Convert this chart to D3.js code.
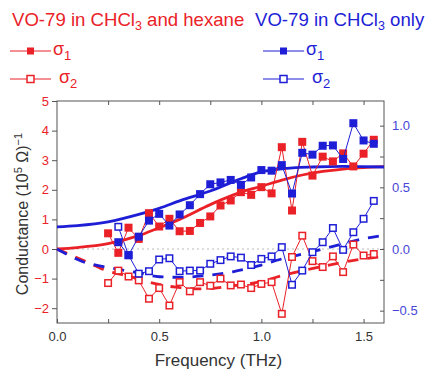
<!DOCTYPE html>
<html>
<head>
<meta charset="utf-8">
<script src="https://cdnjs.cloudflare.com/ajax/libs/d3/7.8.5/d3.min.js"></script>
<style>
  body { margin: 0; background: #fff; }
  svg { font-family: "Liberation Sans", Arial, sans-serif; }
</style>
</head>
<body>
<div id="chart"></div>
<script>
// data
const redFreq = [0.25,0.30,0.35,0.40,0.45,0.50,0.55,0.60,0.65,0.70,0.75,0.80,0.85,0.90,0.95,1.00,1.05,1.10,1.15,1.20,1.25,1.30,1.35,1.40,1.45,1.50,1.55];
const redSigma1 = [0.53,-0.13,0.72,0.34,1.21,0.76,1.02,0.60,0.61,0.88,1.10,1.47,1.64,1.92,1.83,2.09,1.88,3.44,1.30,3.62,2.48,3.12,2.96,3.23,2.79,3.22,3.69];
const redSigma2 = [-1.15,-0.73,-0.93,-1.06,-1.68,-1.32,-1.91,-1.12,-1.43,-1.12,-1.24,-1.00,-1.23,-1.20,-1.32,-1.18,-1.12,-2.19,-0.27,0.45,-0.41,-0.61,-0.25,-0.78,0.15,-0.22,-0.17];

const blueFreq = [0.30,0.35,0.40,0.45,0.50,0.55,0.60,0.65,0.70,0.75,0.80,0.85,0.90,0.95,1.00,1.05,1.10,1.15,1.20,1.25,1.30,1.35,1.40,1.45,1.50,1.55];
const blueSigma1 = [0.055,-0.05,0.10,0.23,0.285,0.19,0.28,0.355,0.445,0.525,0.54,0.56,0.52,0.58,0.64,0.635,0.68,0.45,0.78,0.765,0.837,0.84,0.73,1.02,0.88,0.853];
const blueSigma2 = [0.18,-0.05,-0.20,-0.18,-0.085,-0.075,-0.18,-0.175,-0.175,-0.12,-0.09,-0.06,-0.07,-0.13,-0.08,-0.06,0.015,-0.29,-0.175,-0.026,0.055,0.17,-0.007,0.136,0.245,0.39];

// fit curves
const redFit1Freq = [0,0.1,0.25,0.4,0.5,0.6,0.75,0.8,0.9,1.0,1.1,1.2,1.3,1.4,1.5,1.6];
const redFit1 = [0,0.05,0.18,0.45,0.72,1.0,1.5,1.65,1.92,2.12,2.33,2.5,2.62,2.7,2.75,2.78];
const blueFit1Freq = [0,0.1,0.25,0.4,0.5,0.6,0.75,0.9,1.0,1.1,1.25,1.4,1.6];
const blueFit1 = [0.18,0.19,0.22,0.28,0.33,0.39,0.47,0.57,0.625,0.65,0.665,0.67,0.665];
const redFit2Freq = [0,0.15,0.25,0.36,0.45,0.58,0.72,0.85,1.0,1.1,1.19,1.32,1.43,1.6];
const redFit2 = [0,-0.45,-0.75,-0.93,-1.12,-1.29,-1.35,-1.25,-1.1,-0.9,-0.75,-0.56,-0.41,-0.25];
const blueFit2Freq = [0,0.13,0.25,0.39,0.5,0.62,0.73,0.86,1.0,1.09,1.24,1.36,1.5,1.6];
const blueFit2 = [0,-0.105,-0.15,-0.19,-0.225,-0.23,-0.215,-0.185,-0.13,-0.085,-0.026,0.025,0.083,0.11];

const leftTicks = [-2,-1,0,1,2,3,4,5];
const rightTicks = [-0.5,0.0,0.5,1.0];
const xTicks = [0,0.5,1.0,1.5];

const width = 437, height = 371;
const L = 57, R = 384, T = 101, B = 323;
const RED = "#ea2228", BLUE = "#1e1ed6";

const svg = d3.select("#chart").append("svg")
  .attr("width", width).attr("height", height);

const x = d3.scaleLinear().domain([0, 1.6]).range([L, R]);
const yL = d3.scaleLinear().domain([-2.5, 5]).range([B, T]);
const yR = d3.scaleLinear().domain([-0.6, 1.2]).range([B, T]);

// zero reference line
svg.append("line")
  .attr("x1", L).attr("x2", R).attr("y1", yL(0)).attr("y2", yL(0))
  .attr("stroke", "#bbb").attr("stroke-dasharray", "2,3");

// axes
const axisColor = "#555";
function styleAxis(g, labelColor) {
  g.select(".domain").remove();
  g.selectAll(".tick line").attr("stroke", axisColor);
  g.selectAll(".tick text").attr("fill", labelColor).style("font-size", "13px");
}
svg.append("g").attr("transform", `translate(${L},0)`)
  .call(d3.axisLeft(yL).tickValues(leftTicks).tickFormat(d3.format("d")).tickSize(5).tickPadding(3))
  .call(g => styleAxis(g, RED));
svg.append("g").attr("transform", `translate(${R},0)`)
  .call(d3.axisRight(yR).tickValues([-0.5,-0.25,0,0.25,0.5,0.75,1.0]).tickSize(-4).tickPadding(8)
    .tickFormat(d => rightTicks.includes(d) ? d3.format(".1f")(d) : ""))
  .call(g => styleAxis(g, "#4646d8"));
svg.append("g").attr("transform", `translate(0,${B})`)
  .call(d3.axisBottom(x).tickValues([0,0.25,0.5,0.75,1.0,1.25,1.5]).tickSize(-4).tickPadding(9)
    .tickFormat(d => xTicks.includes(d) ? d3.format(".1f")(d) : ""))
  .call(g => styleAxis(g, "#333"));
svg.append("g").attr("transform", `translate(0,${T})`)
  .call(d3.axisTop(x).tickValues([0.25,0.5,0.75,1.0,1.25,1.5]).tickSize(-4).tickFormat(""))
  .call(g => styleAxis(g, "#333"));

svg.append("rect")
  .attr("x", L).attr("y", T).attr("width", R - L).attr("height", B - T)
  .attr("fill", "none").attr("stroke", axisColor).attr("stroke-width", 1);

// fits
function fitLine(freqs, vals, scale, color, dashed) {
  const line = d3.line().x(d => x(d[0])).y(d => scale(d[1])).curve(d3.curveMonotoneX);
  svg.append("path")
    .datum(freqs.map((f, i) => [f, vals[i]]))
    .attr("d", line)
    .attr("fill", "none")
    .attr("stroke", color)
    .attr("stroke-width", 2.8)
    .attr("stroke-dasharray", dashed ? "11,9" : null);
}
fitLine(redFit1Freq, redFit1, yL, RED, false);
fitLine(redFit2Freq, redFit2, yL, RED, true);
fitLine(blueFit1Freq, blueFit1, yR, BLUE, false);
fitLine(blueFit2Freq, blueFit2, yR, BLUE, true);

// data series
function series(freqs, vals, scale, color, filled) {
  const pts = freqs.map((f, i) => [f, vals[i]]);
  svg.append("path")
    .datum(pts)
    .attr("d", d3.line().x(d => x(d[0])).y(d => scale(d[1])))
    .attr("fill", "none").attr("stroke", color).attr("stroke-width", 1);
  const s = 8;
  svg.append("g").selectAll("rect").data(pts).join("rect")
    .attr("x", d => x(d[0]) - s / 2 + (filled ? 0 : 0.75))
    .attr("y", d => scale(d[1]) - s / 2 + (filled ? 0 : 0.75))
    .attr("width", filled ? s : s - 1.5)
    .attr("height", filled ? s : s - 1.5)
    .attr("fill", filled ? color : "#fff")
    .attr("stroke", filled ? "none" : color)
    .attr("stroke-width", 1.5);
}
series(redFreq, redSigma2, yL, RED, false);
series(blueFreq, blueSigma2, yR, BLUE, false);
series(redFreq, redSigma1, yL, RED, true);
series(blueFreq, blueSigma1, yR, BLUE, true);

// axis titles
svg.append("text")
  .attr("x", (L + R) / 2 - 2).attr("y", 366)
  .attr("text-anchor", "middle").attr("fill", "#333")
  .style("font-size", "17px")
  .text("Frequency (THz)");

const yt = svg.append("text")
  .attr("transform", `translate(28,${(T + B) / 2 + 2}) rotate(-90)`)
  .attr("text-anchor", "middle").attr("fill", "#333")
  .style("font-size", "16px");
yt.append("tspan").text("Conductance (10");
yt.append("tspan").attr("dy", -6).style("font-size", "11px").text("5");
yt.append("tspan").attr("dy", 6).text(" Ω)");
yt.append("tspan").attr("dy", -6).style("font-size", "11px").text("−1");

// legend
function legendTitle(xp, color, before, after) {
  const t = svg.append("text").attr("x", xp).attr("y", 26)
    .attr("fill", color).style("font-size", "18.6px");
  t.append("tspan").text(before);
  t.append("tspan").attr("dy", 4).style("font-size", "12.5px").text("3");
  t.append("tspan").attr("dy", -4).text(after);
}
legendTitle(12, RED, "VO-79 in CHCl", " and hexane");
legendTitle(255, BLUE, "VO-79 in CHCl", " only");

function legendRow(xp, yp, color, filled, sub, gap) {
  svg.append("line").attr("x1", xp).attr("x2", xp + 41)
    .attr("y1", yp).attr("y2", yp).attr("stroke", color).attr("stroke-width", 1.2);
  const s = 7;
  svg.append("rect")
    .attr("x", xp + 17).attr("y", yp - s / 2).attr("width", s).attr("height", s)
    .attr("fill", filled ? color : "#fff").attr("stroke", color).attr("stroke-width", filled ? 0 : 1.5);
  const t = svg.append("text").attr("x", xp + 43 + gap).attr("y", yp + 4)
    .attr("fill", color).style("font-size", "18px");
  t.append("tspan").text("σ");
  t.append("tspan").attr("dy", 5).style("font-size", "13px").text(sub);
}
legendRow(10, 51, RED, true, "1", 0);
legendRow(10, 79, RED, false, "2", 6);
legendRow(263, 51, BLUE, true, "1", 0);
legendRow(263, 79, BLUE, false, "2", 6);
</script>
</body>
</html>
